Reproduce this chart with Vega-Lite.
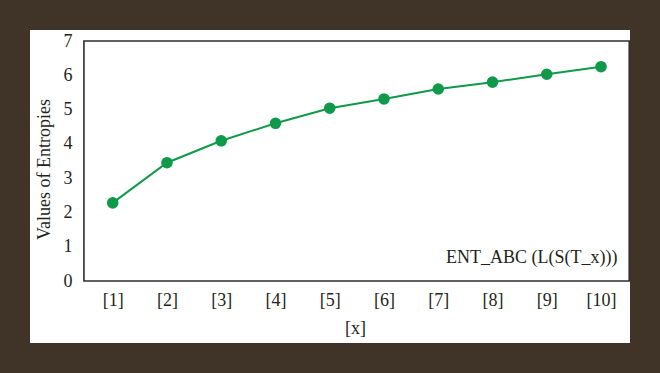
{
  "$schema": "https://vega.github.io/schema/vega-lite/v6.json",
  "width": 600,
  "height": 313,
  "autosize": {"type": "none"},
  "padding": {"left": 30, "top": 30, "right": 30, "bottom": 30},
  "background": "#403429",
  "config": {
    "view": {"fill": "white", "stroke": null},
    "font": "Liberation Serif"
  },
  "layer": [
    {
      "data": {"values": [{"frame": "plot"}]},
      "mark": {"type": "rect", "fill": null, "stroke": "#2e2e2e", "strokeWidth": 1.6},
      "encoding": {
        "x": {"datum": 0.47, "type": "quantitative"},
        "x2": {"datum": 10.52},
        "y": {"datum": 0, "type": "quantitative"},
        "y2": {"datum": 7}
      }
    },
    {
      "data": {"values": [
        {"x": 1, "entropy": 2.28, "series": "ENT_ABC (L(S(T_x)))"},
        {"x": 2, "entropy": 3.45, "series": "ENT_ABC (L(S(T_x)))"},
        {"x": 3, "entropy": 4.09, "series": "ENT_ABC (L(S(T_x)))"},
        {"x": 4, "entropy": 4.60, "series": "ENT_ABC (L(S(T_x)))"},
        {"x": 5, "entropy": 5.04, "series": "ENT_ABC (L(S(T_x)))"},
        {"x": 6, "entropy": 5.31, "series": "ENT_ABC (L(S(T_x)))"},
        {"x": 7, "entropy": 5.60, "series": "ENT_ABC (L(S(T_x)))"},
        {"x": 8, "entropy": 5.80, "series": "ENT_ABC (L(S(T_x)))"},
        {"x": 9, "entropy": 6.03, "series": "ENT_ABC (L(S(T_x)))"},
        {"x": 10, "entropy": 6.25, "series": "ENT_ABC (L(S(T_x)))"}
      ]},
      "encoding": {
        "x": {
          "field": "x", "type": "quantitative",
          "scale": {"domain": [-0.524, 10.534], "nice": false, "zero": false},
          "axis": {
            "values": [1, 2, 3, 4, 5, 6, 7, 8, 9, 10],
            "labelExpr": "'[' + datum.value + ']'",
            "offset": -62, "domain": false, "ticks": false, "grid": false,
            "labelPadding": 10, "labelFontSize": 18, "labelColor": "#231f20",
            "labelOverlap": false, "labelFlush": false,
            "title": "[x]", "titleFontSize": 18, "titleFontWeight": "normal",
            "titleColor": "#231f20", "titleX": 325, "titlePadding": 10
          }
        },
        "y": {
          "field": "entropy", "type": "quantitative",
          "scale": {"domain": [-1.808, 7.321], "nice": false, "zero": false},
          "axis": {
            "values": [0, 1, 2, 3, 4, 5, 6, 7],
            "offset": -52, "domain": false, "ticks": false, "grid": false,
            "labelPadding": 10, "labelFontSize": 18, "labelColor": "#231f20",
            "labelOverlap": false, "labelFlush": false,
            "title": "Values of Entropies", "titleFontSize": 18, "titleFontWeight": "normal",
            "titleColor": "#231f20", "titleY": 139, "titlePadding": 10
          }
        },
        "color": {
          "field": "series", "type": "nominal",
          "scale": {"range": ["#0f9a4b"]},
          "legend": {
            "title": null, "orient": "none", "legendX": 394, "legendY": 219,
            "symbolOpacity": 0, "symbolSize": 0, "symbolStrokeWidth": 0,
            "labelFontSize": 18, "labelColor": "#231f20", "labelLimit": 0,
            "labelFont": "Liberation Serif"
          }
        }
      },
      "layer": [
        {"mark": {"type": "line", "strokeWidth": 2}},
        {"mark": {"type": "circle", "size": 135, "opacity": 1}}
      ]
    }
  ]
}
